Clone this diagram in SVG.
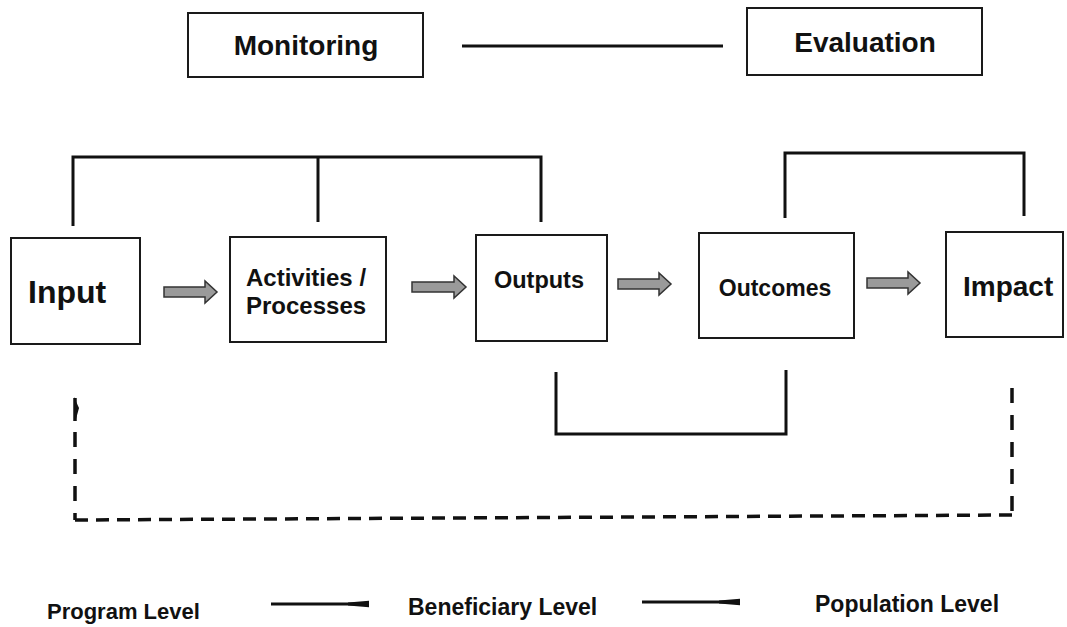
<svg xmlns="http://www.w3.org/2000/svg" width="1067" height="627" viewBox="0 0 1067 627">
<defs>
<style>
.box{fill:#fff;stroke:#1a1a1a;stroke-width:2}
.t{font-family:"Liberation Sans",Arial,sans-serif;font-weight:bold;fill:#111}
.ln{fill:none;stroke:#111;stroke-width:3}
.dash{fill:none;stroke:#111;stroke-width:3.5}
.arr{fill:#9a9a9a;stroke:#333;stroke-width:1.5}
.lg{fill:none;stroke:#111;stroke-width:3}
</style>
<marker id="legHead" markerWidth="7" markerHeight="4" refX="7" refY="2" orient="auto" markerUnits="strokeWidth">
<path d="M0,1.5 L7,0.9 L7,3.1 L0,2.5 z" fill="#111"/>
</marker>
</defs>
<rect width="1067" height="627" fill="#fff"/>

<g id="monitoring">
<rect class="box" x="188" y="13" width="235" height="64"/>
<text class="t" x="306" y="55" font-size="28" text-anchor="middle">Monitoring</text>
</g>
<g id="evaluation">
<rect class="box" x="747" y="8" width="235" height="67"/>
<text class="t" x="865" y="52" font-size="28" text-anchor="middle">Evaluation</text>
</g>

<g id="input">
<rect class="box" x="11" y="238" width="129" height="106"/>
<text class="t" x="28" y="303" font-size="32">Input</text>
</g>
<g id="activities">
<rect class="box" x="230" y="237" width="156" height="105"/>
<text class="t" x="246" y="286" font-size="24">Activities /</text>
<text class="t" x="246" y="314" font-size="24">Processes</text>
</g>
<g id="outputs">
<rect class="box" x="476" y="235" width="131" height="106"/>
<text class="t" x="539" y="288" font-size="23.5" text-anchor="middle">Outputs</text>
</g>
<g id="outcomes">
<rect class="box" x="699" y="233" width="155" height="105"/>
<text class="t" x="775" y="296" font-size="23" text-anchor="middle">Outcomes</text>
</g>
<g id="impact">
<rect class="box" x="946" y="232" width="117" height="105"/>
<text class="t" x="963" y="296" font-size="28">Impact</text>
</g>

<g id="connectors">
<line class="ln" x1="462" y1="46" x2="723" y2="46"/>
<path class="ln" d="M73,226 L73,157 L541,157 L541,222"/>
<line class="ln" x1="318" y1="157" x2="318" y2="222"/>
<path class="ln" d="M785,218 L785,153 L1024,153 L1024,216"/>
<path class="ln" d="M556,372 L556,434 L786,434 L786,370"/>
<path class="arr" d="M164,287 L205,287 L205,281 L217,292 L205,303 L205,297 L164,297 z"/>
<path class="arr" d="M412,282 L454,282 L454,276 L466,287 L454,298 L454,292 L412,292 z"/>
<path class="arr" d="M618,279 L659,279 L659,273 L671,284 L659,295 L659,289 L618,289 z"/>
<path class="arr" d="M867,278 L908,278 L908,272 L920,283 L908,294 L908,288 L867,288 z"/>
<line class="dash" x1="75" y1="432" x2="75" y2="520" stroke-dasharray="15 12"/>
<line class="dash" x1="75" y1="398" x2="75" y2="421"/>
<path d="M74,397 L79,408 L76,419 L74,419 z" fill="#111"/>
<line class="dash" x1="75" y1="520" x2="1012" y2="515" stroke-width="4" stroke-dasharray="13 8"/>
<line class="dash" x1="1012" y1="388" x2="1012" y2="515" stroke-dasharray="15 12"/>
<line class="lg" x1="271" y1="604" x2="369" y2="604" marker-end="url(#legHead)"/>
<line class="lg" x1="642" y1="602" x2="740" y2="602" marker-end="url(#legHead)"/>
</g>

<g id="legend">
<text class="t" x="47" y="619" font-size="22">Program Level</text>
<text class="t" x="408" y="615" font-size="23">Beneficiary Level</text>
<text class="t" x="815" y="612" font-size="23">Population Level</text>
</g>
</svg>
